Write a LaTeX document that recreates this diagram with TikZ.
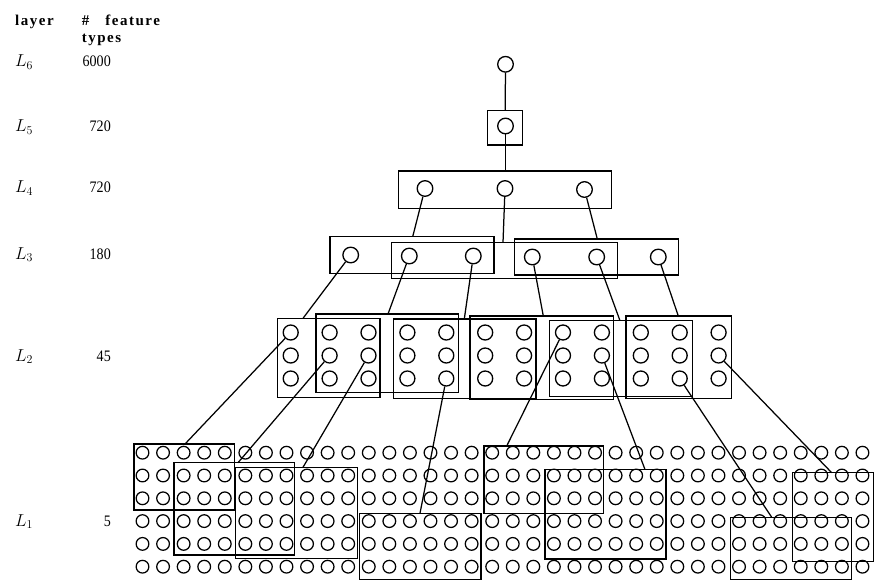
\documentclass[tikz,border=0pt]{standalone}
\usepackage{fontspec}
\setmainfont{Liberation Serif}
\newfontfamily\hdrfont[LetterSpace=10]{Liberation Serif}
\newfontfamily\numfont[FakeStretch=0.88]{Liberation Serif}
\usetikzlibrary{fit}
\newcommand\fieldbox[5]{%
  \path (#2,#3) coordinate (#1-nw) (#4,#5) coordinate (#1-se);
  \node[field, fit=(#1-nw)(#1-se)] (#1) {};}
\begin{document}
\begin{tikzpicture}[x=1pt,y=-1pt,
  l1unit/.style={circle, draw, line width=1.25pt, inner sep=0pt, minimum size=12.7pt},
  l2unit/.style={circle, draw, line width=1.3pt, inner sep=0pt, minimum size=15pt},
  hiunit/.style={circle, draw, line width=1.3pt, inner sep=0pt, minimum size=15.6pt},
  field/.style={draw, line width=1.3pt, inner sep=0pt, outer sep=0pt},
  wire/.style={line width=1.25pt},
  hdr/.style={anchor=base west, inner sep=0pt, font=\hdrfont\bfseries\fontsize{15}{15}\selectfont},
  lname/.style={anchor=base west, inner sep=0pt, font=\fontsize{17.5}{17.5}\selectfont},
  num/.style={anchor=base east, inner sep=0pt, font=\numfont\fontsize{16}{16}\selectfont}]
\useasboundingbox (0,0) rectangle (879,581);

% header
\node[hdr] (hlayer) at (15,25.5) {layer};
\node[hdr] (hfeat) at (81.7,25.5) {\#\hspace{16pt}feature};
\node[hdr] (htypes) at (81.7,42.5) {types};

% layer names and counts
\node[lname] (n6) at (15,66.5) {$L_6$};
\node[num] (c6) at (111,66.5) {6000};
\node[lname] (n5) at (15,131.5) {$L_5$};
\node[num] (c5) at (111,131.5) {720};
\node[lname] (n4) at (15,192.5) {$L_4$};
\node[num] (c4) at (111,192.5) {720};
\node[lname] (n3) at (15,259) {$L_3$};
\node[num] (c3) at (111,259) {180};
\node[lname] (n2) at (15,361) {$L_2$};
\node[num] (c2) at (111,361) {45};
\node[lname] (n1) at (15,526) {$L_1$};
\node[num] (c1) at (111,526) {5};

% L6, L5
\node[hiunit] (u6) at (505.5,64.3) {};
\fieldbox{box5}{487.7}{110.7}{522.7}{145}
\node[hiunit] (u5) at (505.5,126) {};
\draw[wire] (u6) -- (box5.north);

% L4
\fieldbox{box4}{398.3}{171}{611.7}{208.3}
\node[hiunit] (u4a) at (425,188.5) {};
\node[hiunit] (u4b) at (505,188.5) {};
\node[hiunit] (u4c) at (584.5,189.5) {};
\draw[wire] (u5) -- (u5 |- box4.north);

% L3
\fieldbox{box3a}{330}{236.7}{494}{273.3}
\fieldbox{box3b}{391.7}{242.7}{617.3}{278.3}
\fieldbox{box3c}{514.3}{239}{678.3}{275}
\node[hiunit] (u3a) at (350.7,255) {};
\node[hiunit] (u3b) at (409.3,256) {};
\node[hiunit] (u3c) at (473.3,256) {};
\node[hiunit] (u3d) at (532.3,257) {};
\node[hiunit] (u3e) at (596.7,257) {};
\node[hiunit] (u3f) at (658.3,257) {};
\coordinate (t3a) at (412.7,236.7);
\coordinate (t3b) at (503,242.7);
\coordinate (t3c) at (597.3,239);
\draw[wire] (u4a) -- (t3a);
\draw[wire] (u4b) -- (t3b);
\draw[wire] (u4c) -- (t3c);

% L2
\fieldbox{b2a}{277.3}{318.3}{380}{397.7}
\fieldbox{b2b}{316}{314}{458.3}{392.7}
\fieldbox{b2c}{393.3}{319}{536}{398.3}
\fieldbox{b2d}{470}{316}{613.3}{399.3}
\fieldbox{b2e}{549.3}{320.7}{692.7}{396.7}
\fieldbox{b2f}{626}{316}{731.7}{398.3}
\foreach \k in {1,...,12}{
  \foreach \j in {1,2,3}{
    \node[l2unit] (s-\k-\j) at ({290.7+(\k-1)*38.9},{332.5+(\j-1)*23}) {};
  }
}
\coordinate (t2a) at (303,318.3);
\coordinate (t2b) at (388,314);
\coordinate (t2c) at (464.3,319);
\coordinate (t2d) at (543.3,316);
\coordinate (t2e) at (620,320.7);
\coordinate (t2f) at (678.3,316);
\draw[wire] (u3a) -- (t2a);
\draw[wire] (u3b) -- (t2b);
\draw[wire] (u3c) -- (t2c);
\draw[wire] (u3d) -- (t2d);
\draw[wire] (u3e) -- (t2e);
\draw[wire] (u3f) -- (t2f);

% L1
\foreach \k in {1,...,36}{
  \foreach \j in {1,...,6}{
    \node[l1unit] (g-\k-\j) at ({142.5+(\k-1)*20.57},{452.7+(\j-1)*22.8}) {};
  }
}
\fieldbox{fa}{134}{444}{234.7}{510}
\fieldbox{fb}{174}{462.7}{294.7}{555}
\fieldbox{fd}{235.3}{467.3}{357.3}{558.3}
\fieldbox{fe}{359.7}{513.3}{481}{579.3}
\fieldbox{ff}{484}{446}{603.3}{513.3}
\fieldbox{fg}{545}{469.5}{666}{559}
\fieldbox{fh}{730.7}{517.3}{851.7}{579.3}
\fieldbox{fi}{792.7}{472.7}{873.3}{561.7}
\coordinate (t1a) at (185,444);
\coordinate (t1b) at (238,462.7);
\coordinate (t1d) at (303,467.3);
\coordinate (t1e) at (420,513.3);
\coordinate (t1f) at (506.7,446);
\coordinate (t1g) at (645,469.5);
\coordinate (t1h) at (771.7,517.3);
\coordinate (t1i) at (831.7,472.7);
\draw[wire] (s-1-1) -- (t1a);
\draw[wire] (s-2-2) -- (t1b);
\draw[wire] (s-3-2) -- (t1d);
\draw[wire] (s-5-3) -- (t1e);
\draw[wire] (s-8-1) -- (t1f);
\draw[wire] (s-9-2) -- (t1g);
\draw[wire] (s-11-3) -- (t1h);
\draw[wire] (s-12-2) -- (t1i);
\end{tikzpicture}
\end{document}
